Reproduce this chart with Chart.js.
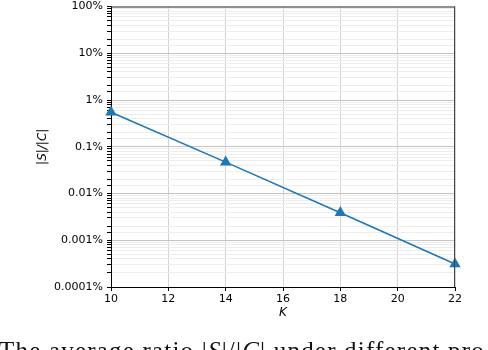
<!DOCTYPE html>
<html>
<head>
<meta charset="utf-8">
<script src="https://cdn.jsdelivr.net/npm/chart.js@4/dist/chart.umd.min.js"></script>
<style>
  html, body { margin: 0; padding: 0; background: #fff; }
  #wrap { position: relative; width: 488px; height: 350px; overflow: hidden; }
  #c { position: absolute; left: 0; top: 0; }
  #caption {
    position: absolute; left: -1px; top: 337px; white-space: nowrap; line-height: normal;
    font-family: "Liberation Serif", "DejaVu Serif", serif; font-size: 25px; letter-spacing: 1.2px; color: #111;
  }
</style>
</head>
<body>
<div id="wrap">
  <canvas id="c" width="488" height="350"></canvas>
  <div id="caption">The average ratio |<i>S</i>|/|<i>C</i>| under different pro</div>
</div>
<script>
// Data
const kValues = [10, 14, 18, 22];
const ratioPercent = [0.55, 0.047, 0.0039, 0.00031];
const xTicks = [10, 12, 14, 16, 18, 20, 22];
const yDecadeLabels = ['0.0001%', '0.001%', '0.01%', '0.1%', '1%', '10%', '100%'];
const yDecades = [0.0001, 0.001, 0.01, 0.1, 1, 10, 100];

const C0 = '#1f77b4';
const FONT = "'DejaVu Sans', sans-serif";

function isDecade(v) {
  const l = Math.log10(v);
  return Math.abs(l - Math.round(l)) < 1e-6;
}

const spinePlugin = {
  id: 'spines',
  afterDraw(chart) {
    const a = chart.chartArea, ctx = chart.ctx;
    ctx.save();
    ctx.strokeStyle = '#444';
    ctx.lineWidth = 1;
    ctx.beginPath();
    ctx.moveTo(a.left, a.top + 0.5);
    ctx.lineTo(a.right, a.top + 0.5);
    ctx.moveTo(a.right - 0.5, a.top);
    ctx.lineTo(a.right - 0.5, a.bottom);
    ctx.stroke();
    ctx.restore();
  }
};

new Chart(document.getElementById('c'), {
  type: 'line',
  data: {
    datasets: [{
      data: kValues.map((k, i) => ({ x: k, y: ratioPercent[i] })),
      borderColor: C0,
      backgroundColor: C0,
      borderWidth: 1.6,
      pointStyle: 'triangle',
      pointRadius: 5,
      pointHoverRadius: 5,
      clip: false,
      tension: 0
    }]
  },
  options: {
    responsive: false,
    animation: false,
    events: [],
    layout: { padding: { top: 5, right: 33, left: 0, bottom: 0 } },
    plugins: { legend: { display: false }, tooltip: { enabled: false } },
    scales: {
      x: {
        type: 'linear',
        min: 10, max: 22,
        afterBuildTicks(scale) { scale.ticks = xTicks.map(v => ({ value: v })); },
        afterFit(scale) { scale.height = 63; scale.paddingLeft = 0; scale.paddingRight = 0; },
        ticks: { color: '#000', font: { family: FONT, size: 11 }, padding: 2, maxRotation: 0 },
        grid: { color: '#d2d2d2', lineWidth: 1, tickLength: 4, tickColor: '#000' },
        border: { color: '#000', width: 1 },
        title: { display: true, text: 'K', color: '#000', font: { family: FONT, size: 12, style: 'italic' }, padding: { top: 0, bottom: 30 } }
      },
      y: {
        type: 'logarithmic',
        min: 0.0001, max: 100,
        afterFit(scale) { scale.width = 111; scale.paddingTop = 0; scale.paddingBottom = 0; },
        ticks: {
          autoSkip: false,
          color: '#000',
          font: { family: FONT, size: 11 },
          padding: 4,
          callback(v) {
            if (!isDecade(v)) return '';
            const i = yDecades.findIndex(d => Math.abs(Math.log10(d) - Math.log10(v)) < 1e-6);
            return i >= 0 ? yDecadeLabels[i] : '';
          }
        },
        grid: {
          color: ctx => (ctx.tick && isDecade(ctx.tick.value)) ? '#c4c4c4' : '#ededed',
          lineWidth: 1,
          tickLength: 4,
          tickColor: '#000'
        },
        border: { color: '#000', width: 1 },
        title: { display: true, text: '|S|/|C|', color: '#000', font: { family: FONT, size: 12, style: 'italic' }, padding: { top: 36, bottom: 0 } }
      }
    }
  },
  plugins: [spinePlugin]
});
</script>
</body>
</html>
